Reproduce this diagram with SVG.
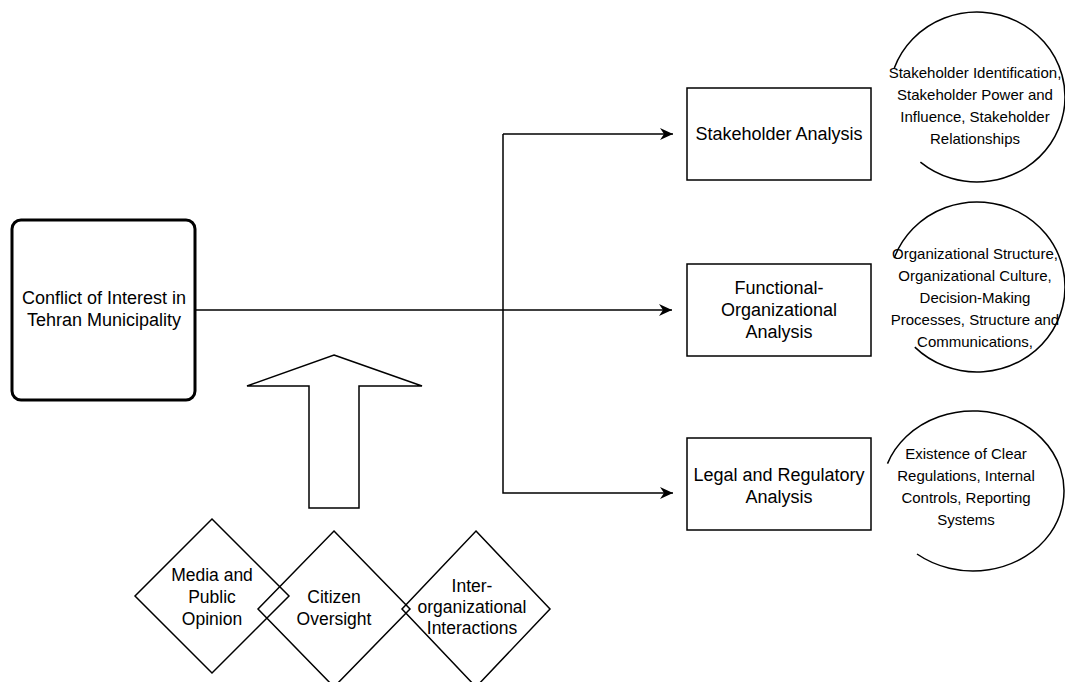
<svg xmlns="http://www.w3.org/2000/svg" width="1065" height="682" viewBox="0 0 1065 682">
<style>
text{font-family:"Liberation Sans",Arial,sans-serif;fill:#000;text-anchor:middle;dominant-baseline:central}
.box{fill:#fff;stroke:#000;stroke-width:1.5}
.main{fill:#fff;stroke:#000;stroke-width:3}
.arc{fill:none;stroke:#000;stroke-width:1.5}
.dia{fill:none;stroke:#000;stroke-width:1.5}
.t18{font-size:18px}
.t17{font-size:17.5px}
.t15{font-size:15px}
.conn{fill:none;stroke:#000;stroke-width:1.5}
</style>
<defs>
<marker id="ah" markerWidth="14" markerHeight="12" refX="13" refY="6" orient="auto" markerUnits="userSpaceOnUse">
<path d="M0,0 L13,6 L0,12 L4,6 Z" fill="#000"/>
</marker>
</defs>
<rect width="1065" height="682" fill="#fff"/>
<g id="connectors">
<path class="conn" d="M196,310 L672,310" marker-end="url(#ah)"/>
<path class="conn" d="M503,134 L503,493 L673,493" marker-end="url(#ah)"/>
<path class="conn" d="M503,134 L673,134" marker-end="url(#ah)"/>
</g>
<g id="main">
<rect class="main" x="12" y="220" width="183" height="180" rx="9"/>
<text class="t18" x="104" y="298">Conflict of Interest in</text>
<text class="t18" x="104" y="320">Tehran Municipality</text>
</g>
<g id="stakeholder">
<rect class="box" x="687" y="88" width="184" height="92"/>
<text class="t18" x="779" y="134">Stakeholder Analysis</text>
</g>
<g id="functional">
<rect class="box" x="687" y="264" width="184" height="92"/>
<text class="t18" x="779" y="288">Functional-</text>
<text class="t18" x="779" y="310">Organizational</text>
<text class="t18" x="779" y="332">Analysis</text>
</g>
<g id="legal">
<rect class="box" x="687" y="438" width="184" height="92"/>
<text class="t18" x="779" y="475">Legal and Regulatory</text>
<text class="t18" x="779" y="497">Analysis</text>
</g>
<g id="stakeholder-details">
<path class="arc" d="M894.3,67.9 A88,85 0 1 1 920.4,162.1"/>
<text class="t15" x="975" y="72">Stakeholder Identification,</text>
<text class="t15" x="975" y="94">Stakeholder Power and</text>
<text class="t15" x="975" y="116">Influence, Stakeholder</text>
<text class="t15" x="975" y="138">Relationships</text>
</g>
<g id="functional-details">
<path class="arc" d="M894.3,257.9 A88,85 0 1 1 914.8,347.1"/>
<text class="t15" x="975" y="253">Organizational Structure,</text>
<text class="t15" x="975" y="275">Organizational Culture,</text>
<text class="t15" x="975" y="297">Decision-Making</text>
<text class="t15" x="975" y="319">Processes, Structure and</text>
<text class="t15" x="975" y="341">Communications,</text>
</g>
<g id="legal-details">
<path class="arc" d="M887.5,463.6 A91,80 0 1 1 917,554"/>
<text class="t15" x="966" y="453">Existence of Clear</text>
<text class="t15" x="966" y="475">Regulations, Internal</text>
<text class="t15" x="966" y="497">Controls, Reporting</text>
<text class="t15" x="966" y="519">Systems</text>
</g>
<g id="up-arrow">
<path class="box" d="M334,355 L422,386 L359,386 L359,508 L309,508 L309,386 L247,386 Z"/>
</g>
<g id="media">
<path class="dia" d="M212,519 L289,596 L212,673 L135,596 Z"/>
<text class="t17" x="212" y="575">Media and</text>
<text class="t17" x="212" y="597">Public</text>
<text class="t17" x="212" y="619">Opinion</text>
</g>
<g id="citizen">
<path class="dia" d="M334,531 L410,609 L334,687 L258,609 Z"/>
<text class="t17" x="334" y="597">Citizen</text>
<text class="t17" x="334" y="619">Oversight</text>
</g>
<g id="inter">
<path class="dia" d="M476,531 L550,609 L476,687 L402,609 Z"/>
<text class="t17" x="472" y="586">Inter-</text>
<text class="t17" x="472" y="607">organizational</text>
<text class="t17" x="472" y="628">Interactions</text>
</g>
</svg>
